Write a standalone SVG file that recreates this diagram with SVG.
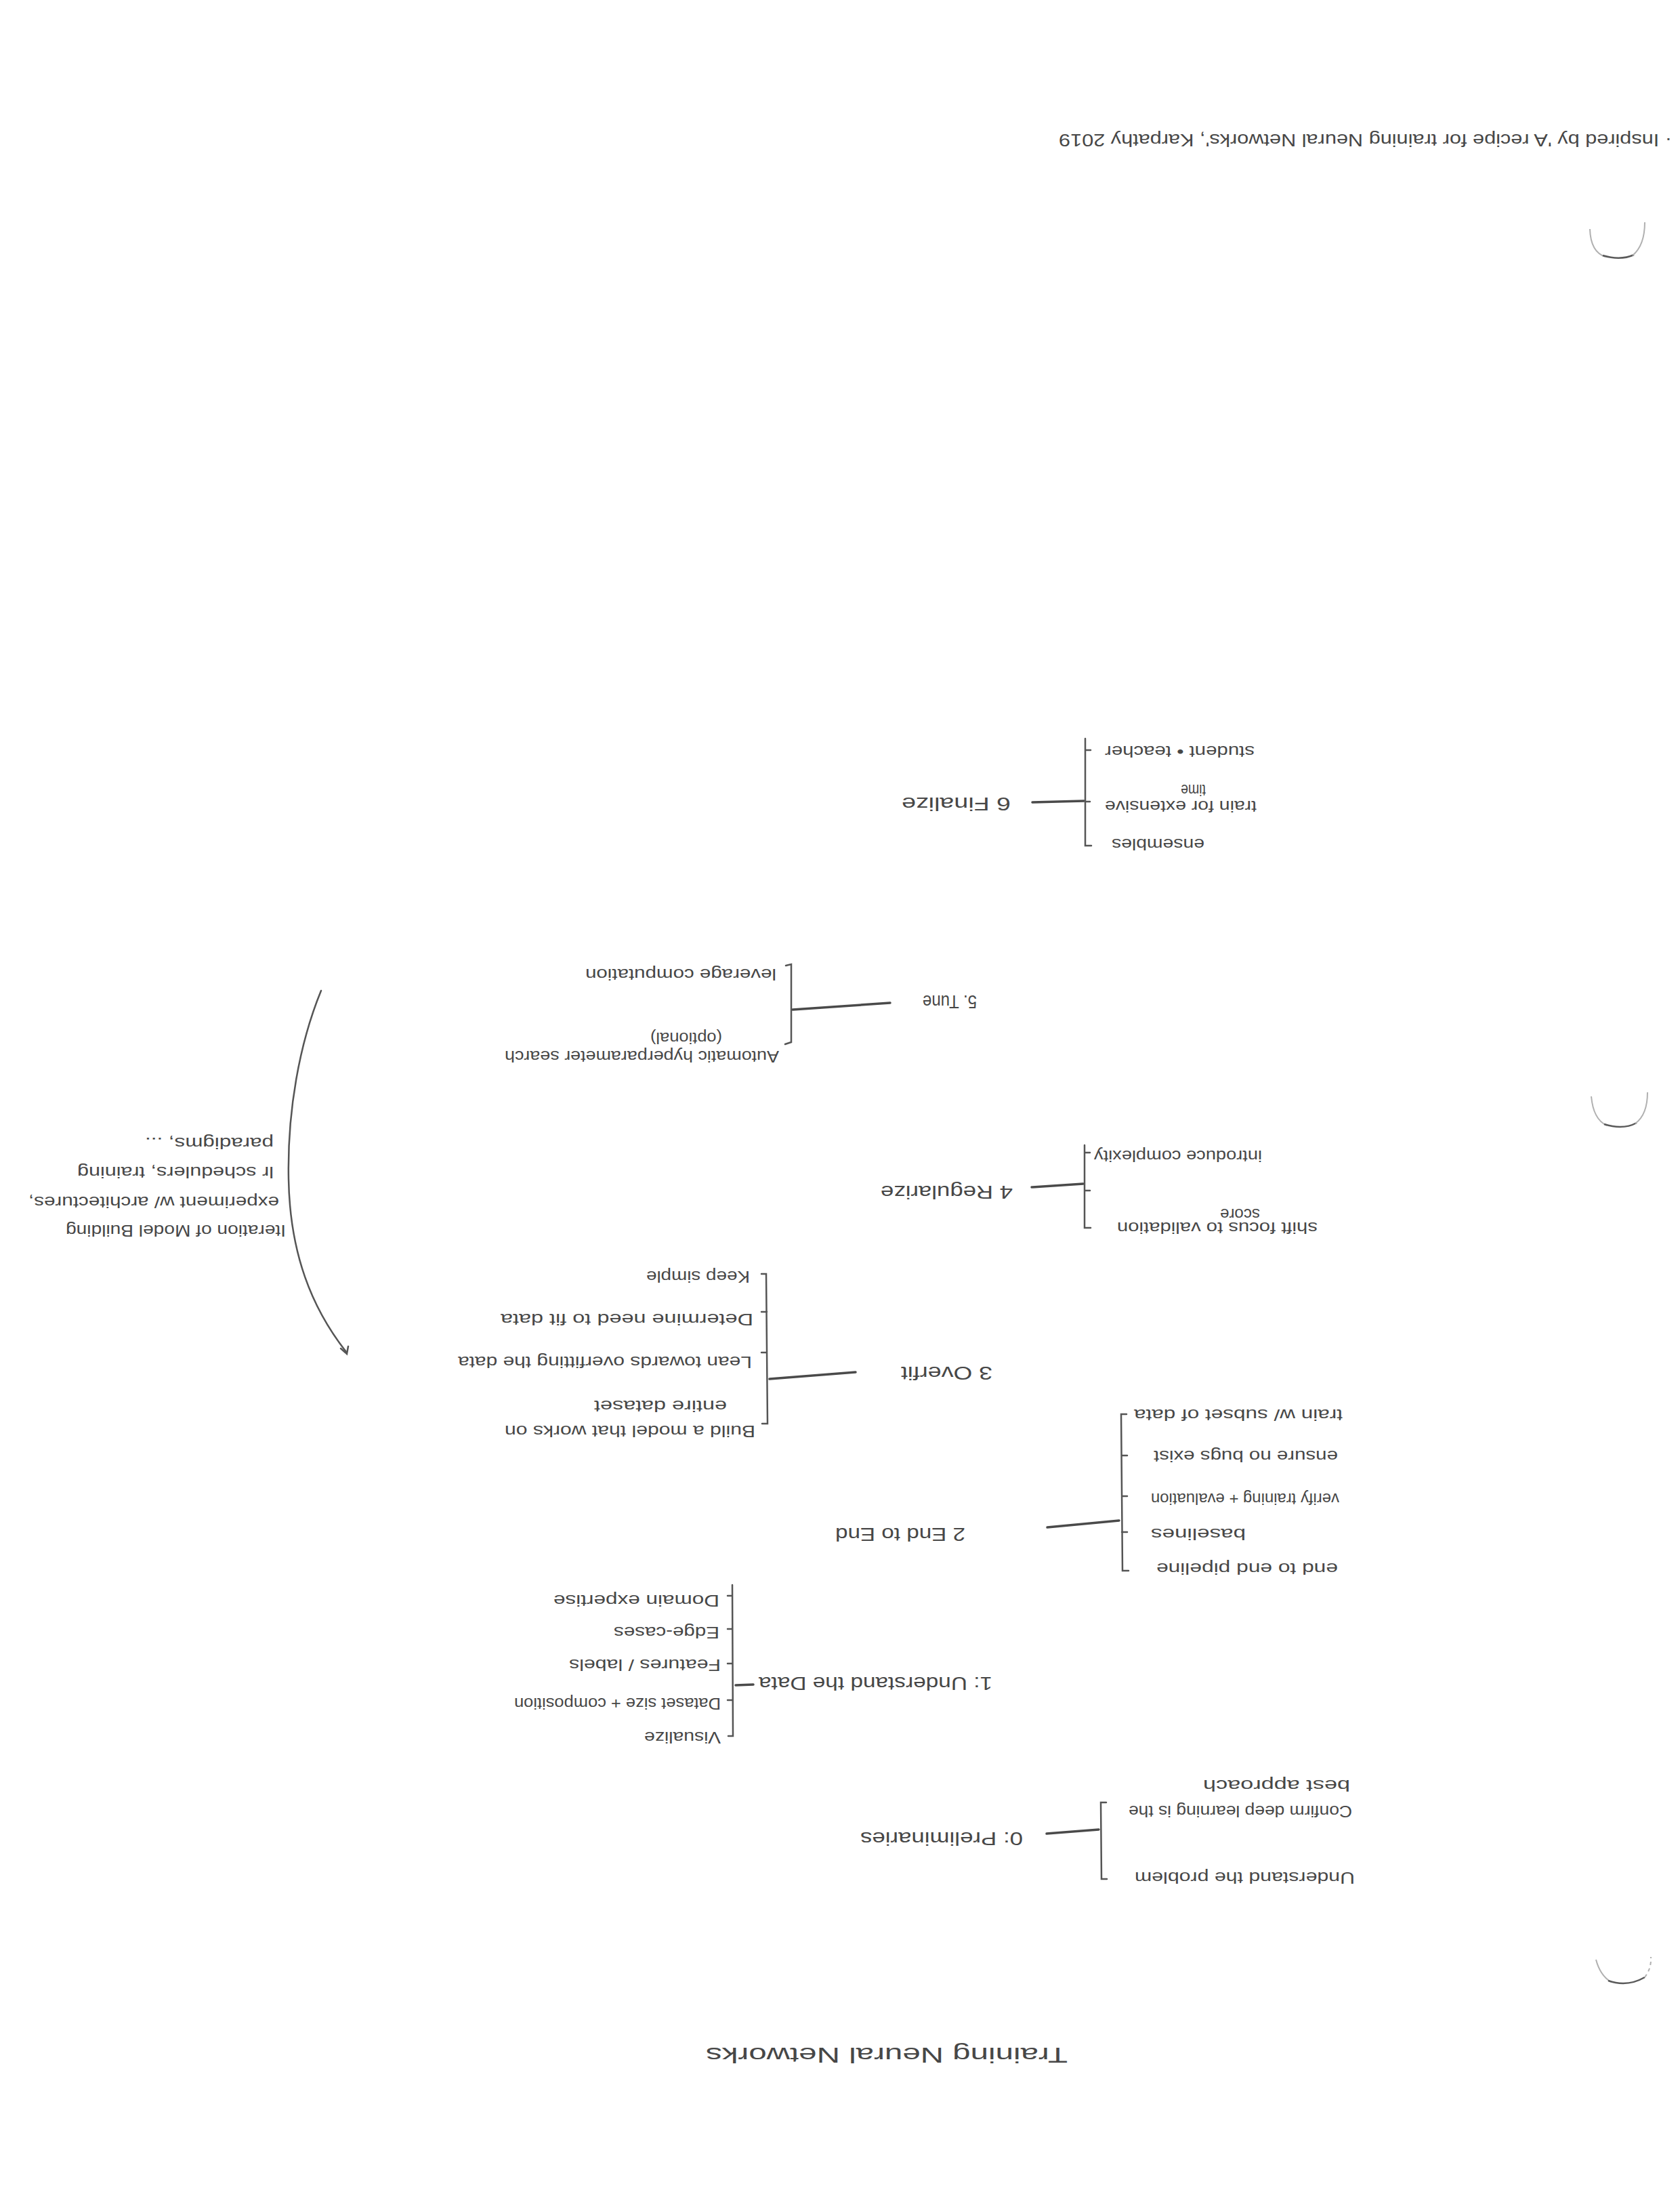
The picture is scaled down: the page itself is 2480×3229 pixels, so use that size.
<svg xmlns="http://www.w3.org/2000/svg" width="2480" height="3229" viewBox="0 0 2480 3229">
<style>
text{font-family:"Liberation Sans","DejaVu Sans",sans-serif;fill:#474747}
.c{font-size:24px}
.n{font-size:28px}
.ttl{font-size:32px}
.note{font-size:26px}
.ln{stroke:#4a4a4a;stroke-width:3.5;fill:none;stroke-linecap:round}
.br{stroke:#555;stroke-width:2.5;fill:none;stroke-linecap:round}
.hole{stroke:#b0b0b0;stroke-width:2;fill:none}
.holeb{stroke:#5a5a5a;stroke-width:2.5;fill:none}
</style>
<rect width="2480" height="3229" fill="#ffffff"/>

<!-- punch holes -->
<g id="holes">
<path class="hole" d="M2347,338 Q2348,372 2370,379"/>
<path class="holeb" d="M2366,377 Q2392,385 2412,376"/>
<path class="hole" d="M2410,377 Q2428,362 2428,328"/>
<path class="hole" d="M2349,1618 Q2352,1652 2372,1661"/>
<path class="holeb" d="M2368,1659 Q2396,1668 2416,1657"/>
<path class="hole" d="M2414,1658 Q2432,1645 2432,1612"/>
<path class="hole" d="M2356,2892 Q2362,2915 2378,2925"/>
<path class="holeb" d="M2374,2923 Q2402,2933 2428,2918"/>
<path class="hole" d="M2428,2918 Q2438,2905 2437,2888" stroke-dasharray="5 5"/>
</g>

<g id="note-top">
<text class="note" transform="rotate(180 2468 198)" x="2468" y="198" textLength="905" lengthAdjust="spacingAndGlyphs">· Inspired by 'A recipe for training Neural Networks', Karpathy 2019</text>
</g>

<g id="title">
<text class="ttl" transform="rotate(180 1576 3022)" x="1576" y="3022" textLength="534" lengthAdjust="spacingAndGlyphs">Training  Neural  Networks</text>
</g>

<g id="connectors">
<!-- node 6 -->
<path class="ln" d="M1524,1184 L1600,1182"/>
<path class="br" d="M1602,1090 L1602,1248 L1611,1248 M1602,1107 L1610,1107 M1602,1183 L1609,1183"/>
<!-- node 5 -->
<path class="ln" d="M1170,1490 L1314,1480"/>
<path class="br" d="M1160,1425 L1168,1423 L1168,1538 L1159,1541"/>
<!-- node 4 -->
<path class="ln" d="M1523,1752 L1599,1747"/>
<path class="br" d="M1601,1690 L1601,1812 L1610,1812 M1601,1701 L1609,1701 M1601,1757 L1609,1757"/>
<!-- node 3 -->
<path class="ln" d="M1136,2035 L1263,2025"/>
<path class="br" d="M1124,1880 L1131,1880 L1133,2101 L1125,2101 M1132,1936 L1124,1936 M1132,1996 L1124,1996"/>
<!-- node 2 -->
<path class="ln" d="M1546,2254 L1652,2244"/>
<path class="br" d="M1663,2087 L1655,2087 L1657,2318 L1666,2318 M1656,2148 L1664,2148 M1656,2208 L1664,2208 M1656,2261 L1664,2261"/>
<!-- node 1 -->
<path class="ln" d="M1086,2487 L1112,2486"/>
<path class="br" d="M1081,2339 L1082,2562 L1075,2562 M1081,2355 L1074,2355 M1081,2404 L1074,2404 M1081,2455 L1074,2455 M1081,2509 L1074,2509"/>
<!-- node 0 -->
<path class="ln" d="M1545,2706 L1622,2700"/>
<path class="br" d="M1633,2660 L1625,2660 L1626,2773 L1634,2773"/>
<!-- iteration arc -->
<path class="br" d="M474,1462 C442,1540 424,1640 426,1740 C428,1850 460,1930 511,1995"/>
<path class="br" d="M503,1990 L512,1998 L514,1987"/>
</g>

<g id="node-6">
<text class="n" transform="rotate(180 1492 1177)" x="1492" y="1177" textLength="161" lengthAdjust="spacingAndGlyphs">6 Finalize</text>
<text class="c" transform="rotate(180 1852 1101)" x="1852" y="1101" textLength="221" lengthAdjust="spacingAndGlyphs">student • teacher</text>
<text class="c" transform="rotate(180 1855 1182)" x="1855" y="1182" textLength="224" lengthAdjust="spacingAndGlyphs">train for extensive</text>
<text class="c" transform="rotate(180 1780 1158)" x="1780" y="1158" textLength="37" lengthAdjust="spacingAndGlyphs">time</text>
<text class="c" transform="rotate(180 1778 1238)" x="1778" y="1238" textLength="137" lengthAdjust="spacingAndGlyphs">ensembles</text>
</g>

<g id="node-5">
<text class="n" transform="rotate(180 1442 1469)" x="1442" y="1469" textLength="80" lengthAdjust="spacingAndGlyphs">5. Tune</text>
<text class="c" transform="rotate(180 1146 1430)" x="1146" y="1430" textLength="282" lengthAdjust="spacingAndGlyphs">leverage computation</text>
<text class="c" transform="rotate(180 1066 1524)" x="1066" y="1524" textLength="106" lengthAdjust="spacingAndGlyphs">(optional)</text>
<text class="c" transform="rotate(180 1150 1551)" x="1150" y="1551" textLength="405" lengthAdjust="spacingAndGlyphs">Automatic hyperparameter search</text>
</g>

<g id="node-4">
<text class="n" transform="rotate(180 1495 1750)" x="1495" y="1750" textLength="195" lengthAdjust="spacingAndGlyphs">4 Regularize</text>
<text class="c" transform="rotate(180 1863 1698)" x="1863" y="1698" textLength="248" lengthAdjust="spacingAndGlyphs">introduce complexity</text>
<text class="c" transform="rotate(180 1860 1784)" x="1860" y="1784" textLength="59" lengthAdjust="spacingAndGlyphs">score</text>
<text class="c" transform="rotate(180 1945 1804)" x="1945" y="1804" textLength="296" lengthAdjust="spacingAndGlyphs">shift focus to validation</text>
</g>

<g id="node-3">
<text class="n" transform="rotate(180 1465 2017)" x="1465" y="2017" textLength="135" lengthAdjust="spacingAndGlyphs">3 Overfit</text>
<text class="c" transform="rotate(180 1107 1876)" x="1107" y="1876" textLength="153" lengthAdjust="spacingAndGlyphs">Keep simple</text>
<text class="c" transform="rotate(180 1112 1939)" x="1112" y="1939" textLength="373" lengthAdjust="spacingAndGlyphs">Determine need to fit data</text>
<text class="c" transform="rotate(180 1110 2002)" x="1110" y="2002" textLength="434" lengthAdjust="spacingAndGlyphs">Lean towards overfitting the data</text>
<text class="c" transform="rotate(180 1073 2067)" x="1073" y="2067" textLength="196" lengthAdjust="spacingAndGlyphs">entire dataset</text>
<text class="c" transform="rotate(180 1115 2104)" x="1115" y="2104" textLength="370" lengthAdjust="spacingAndGlyphs">Build a model that works on</text>
</g>

<g id="node-2">
<text class="n" transform="rotate(180 1425 2255)" x="1425" y="2255" textLength="192" lengthAdjust="spacingAndGlyphs">2 End to End</text>
<text class="c" transform="rotate(180 1982 2080)" x="1982" y="2080" textLength="308" lengthAdjust="spacingAndGlyphs">train w/ subset of data</text>
<text class="c" transform="rotate(180 1975 2141)" x="1975" y="2141" textLength="272" lengthAdjust="spacingAndGlyphs">ensure no bugs exist</text>
<text class="c" transform="rotate(180 1977 2204)" x="1977" y="2204" textLength="278" lengthAdjust="spacingAndGlyphs">verify training + evaluation</text>
<text class="c" transform="rotate(180 1839 2256)" x="1839" y="2256" textLength="140" lengthAdjust="spacingAndGlyphs">baselines</text>
<text class="c" transform="rotate(180 1975 2307)" x="1975" y="2307" textLength="268" lengthAdjust="spacingAndGlyphs">end to end pipeline</text>
</g>

<g id="node-1">
<text class="n" transform="rotate(180 1465 2475)" x="1465" y="2475" textLength="345" lengthAdjust="spacingAndGlyphs">1: Understand the Data</text>
<text class="c" transform="rotate(180 1062 2354)" x="1062" y="2354" textLength="245" lengthAdjust="spacingAndGlyphs">Domain expertise</text>
<text class="c" transform="rotate(180 1062 2401)" x="1062" y="2401" textLength="156" lengthAdjust="spacingAndGlyphs">Edge-cases</text>
<text class="c" transform="rotate(180 1064 2449)" x="1064" y="2449" textLength="224" lengthAdjust="spacingAndGlyphs">Features / labels</text>
<text class="c" transform="rotate(180 1064 2506)" x="1064" y="2506" textLength="305" lengthAdjust="spacingAndGlyphs">Dataset size + composition</text>
<text class="c" transform="rotate(180 1064 2556)" x="1064" y="2556" textLength="113" lengthAdjust="spacingAndGlyphs">Visualize</text>
</g>

<g id="node-0">
<text class="n" transform="rotate(180 1510 2704)" x="1510" y="2704" textLength="240" lengthAdjust="spacingAndGlyphs">0: Preliminaries</text>
<text class="c" transform="rotate(180 1996 2665)" x="1996" y="2665" textLength="330" lengthAdjust="spacingAndGlyphs">Confirm deep learning is the</text>
<text class="c" transform="rotate(180 1993 2627)" x="1993" y="2627" textLength="217" lengthAdjust="spacingAndGlyphs">best approach</text>
<text class="c" transform="rotate(180 2000 2763)" x="2000" y="2763" textLength="325" lengthAdjust="spacingAndGlyphs">Understand the problem</text>
</g>

<g id="node-iteration">
<text class="c" transform="rotate(180 422 1808)" x="422" y="1808" textLength="325" lengthAdjust="spacingAndGlyphs">Iteration of Model Building</text>
<text class="c" transform="rotate(180 412 1766)" x="412" y="1766" textLength="370" lengthAdjust="spacingAndGlyphs">experiment w/ architectures,</text>
<text class="c" transform="rotate(180 404 1722)" x="404" y="1722" textLength="290" lengthAdjust="spacingAndGlyphs">lr schedulers, training</text>
<text class="c" transform="rotate(180 404 1679)" x="404" y="1679" textLength="190" lengthAdjust="spacingAndGlyphs">paradigms, ...</text>
</g>
</svg>
